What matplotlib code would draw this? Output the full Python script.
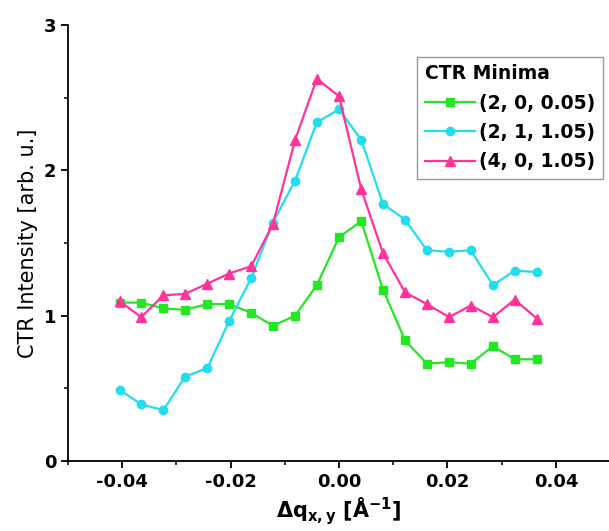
import numpy as np
from matplotlib import pyplot as plt
from matplotlib.ticker import MultipleLocator

# momentum transfer offsets [1/A]
dq = [-0.0405, -0.0365, -0.0324, -0.0284, -0.0243, -0.0203, -0.0162,
      -0.0122, -0.0081, -0.0041, 0.0, 0.0041, 0.0081, 0.0122, 0.0162,
      0.0203, 0.0243, 0.0284, 0.0324, 0.0365]

ctr_200 = [1.09, 1.09, 1.05, 1.04, 1.08, 1.08, 1.02, 0.93, 1.00, 1.21,
           1.54, 1.65, 1.18, 0.83, 0.67, 0.68, 0.67, 0.79, 0.70, 0.70]
ctr_211 = [0.49, 0.39, 0.35, 0.58, 0.64, 0.96, 1.26, 1.64, 1.93, 2.33,
           2.42, 2.21, 1.77, 1.66, 1.45, 1.44, 1.45, 1.21, 1.31, 1.30]
ctr_401 = [1.10, 0.99, 1.14, 1.15, 1.22, 1.29, 1.34, 1.63, 2.21, 2.63,
           2.51, 1.87, 1.43, 1.16, 1.08, 0.99, 1.07, 0.99, 1.11, 0.98]

labels = ['(2, 0, 0.05)', '(2, 1, 1.05)', '(4, 0, 1.05)']

plt.rcParams['mathtext.fontset'] = 'dejavusans'
plt.rcParams['mathtext.default'] = 'bf'

fig = plt.figure(figsize=(6.09, 5.31), dpi=100)
ax = fig.add_axes([0.1117, 0.1318, 0.89, 0.8211])

lw = 1.6
ax.plot(dq, ctr_200, color='#22E822', marker='s', ms=5.5, lw=lw, label=labels[0])
ax.plot(dq, ctr_211, color='#22DDEE', marker='o', ms=6, lw=lw, label=labels[1])
ax.plot(dq, ctr_401, color='#FF3399', marker='^', ms=7, lw=lw, label=labels[2])

ax.set_xlim(-0.05, 0.05)
ax.set_ylim(0, 3)
ax.set_xticks([-0.04, -0.02, 0.0, 0.02, 0.04])
ax.set_xticklabels(['-0.04', '-0.02', '0.00', '0.02', '0.04'])
ax.set_yticks([0, 1, 2, 3])
ax.xaxis.set_minor_locator(MultipleLocator(0.01))
ax.yaxis.set_minor_locator(MultipleLocator(0.5))

for s in ['top', 'right']:
    ax.spines[s].set_visible(False)
for s in ['left', 'bottom']:
    ax.spines[s].set_linewidth(1.3)

ax.tick_params(which='major', direction='out', length=5, width=1.3, labelsize=13)
ax.tick_params(which='minor', direction='out', length=3, width=1.1)
for t in ax.get_xticklabels() + ax.get_yticklabels():
    t.set_fontweight('bold')

ax.set_ylabel('CTR Intensity [arb. u.]', fontsize=15, labelpad=4)
ax.set_xlabel(r'$\Delta q_{x,y}$ [Å$^{-1}$]', fontsize=15, fontweight='bold', labelpad=3)

leg = ax.legend(title='CTR Minima', loc='upper right',
                bbox_to_anchor=(0.99, 0.893), bbox_transform=fig.transFigure,
                fancybox=False, edgecolor='#999999', framealpha=1,
                prop={'weight': 'bold', 'size': 13.5}, numpoints=1,
                handlelength=2.7, handletextpad=0.2, labelspacing=0.55,
                borderaxespad=0, borderpad=0.4)
leg.get_title().set_fontweight('bold')
leg.get_title().set_fontsize(13.5)
leg._legend_box.align = 'left'

fig.savefig('out.png', dpi=100)
